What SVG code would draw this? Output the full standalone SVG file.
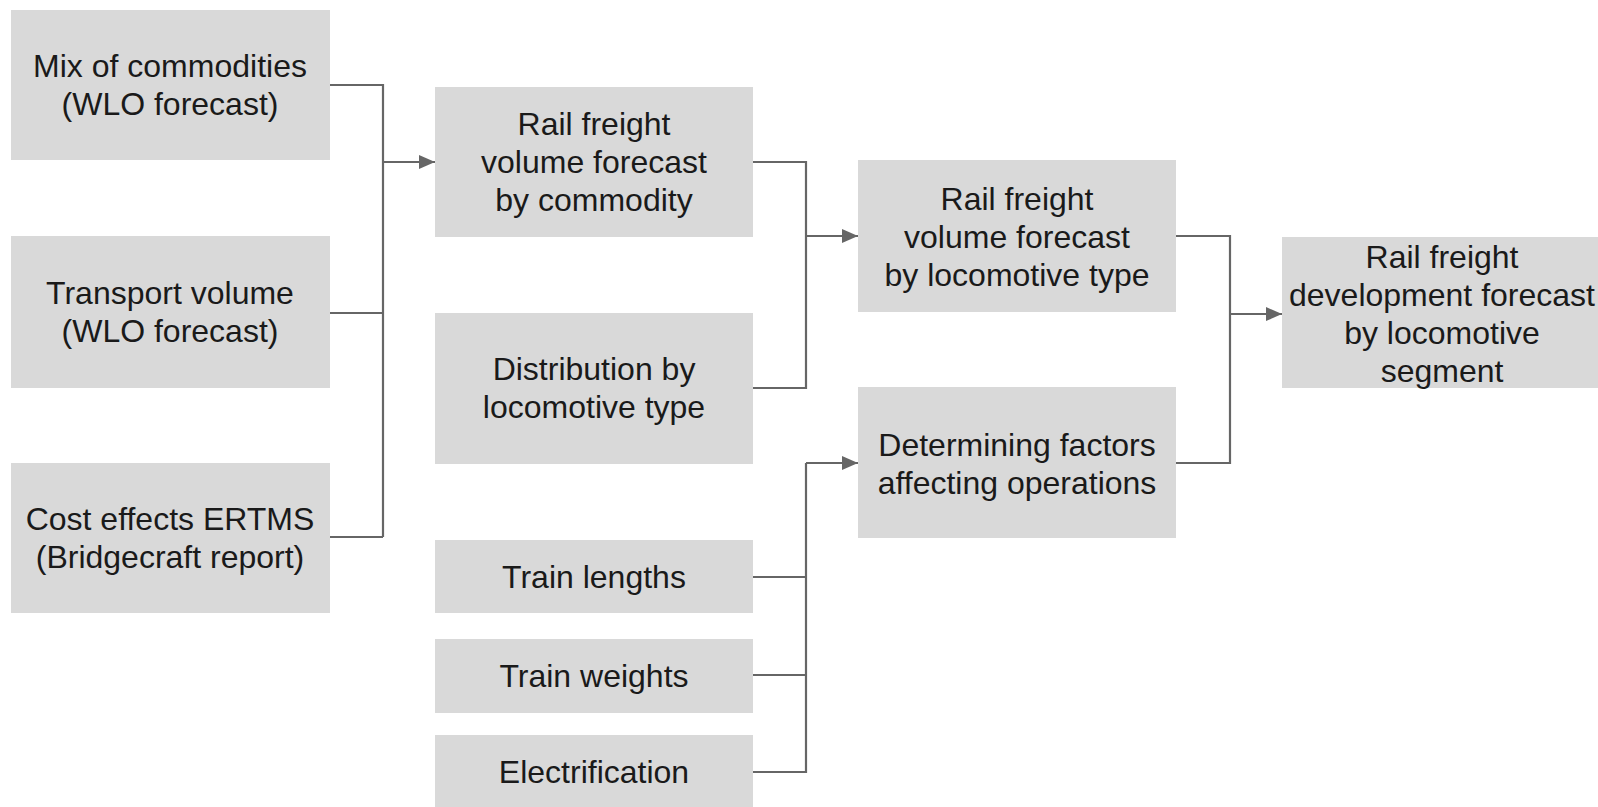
<svg xmlns="http://www.w3.org/2000/svg" width="1598" height="807" viewBox="0 0 1598 807">
<style>
.box{fill:#d9d9d9}
.t{font-family:"Liberation Sans",Arial,sans-serif;font-size:32px;fill:#1a1a1a;text-anchor:middle}
.c{fill:none;stroke:#666;stroke-width:2.2}
</style>
<defs>
<marker id="ah" markerUnits="userSpaceOnUse" markerWidth="16" markerHeight="14" refX="16" refY="7" orient="auto">
<path d="M0,0 L16,7 L0,14 Z" fill="#666"/>
</marker>
</defs>
<rect width="1598" height="807" fill="#fff"/>
<g id="connectors">
<path class="c" d="M330,85 H383 V537 M330,313 H383 M330,537 H383"/>
<path class="c" d="M383,162 H435" marker-end="url(#ah)"/>
<path class="c" d="M753,162 H806 V388 H753"/>
<path class="c" d="M806,236 H858" marker-end="url(#ah)"/>
<path class="c" d="M753,577 H806 M753,675 H806 M753,772 H806 V463"/>
<path class="c" d="M806,463 H858" marker-end="url(#ah)"/>
<path class="c" d="M1176,236 H1230 V463 H1176"/>
<path class="c" d="M1230,314 H1282" marker-end="url(#ah)"/>
</g>
<g id="mix"><rect class="box" x="11" y="10" width="319" height="150"/>
<text class="t" x="170" y="77">Mix of commodities</text><text class="t" x="170" y="115">(WLO forecast)</text></g>
<g id="transport"><rect class="box" x="11" y="236" width="319" height="152"/>
<text class="t" x="170" y="304">Transport volume</text><text class="t" x="170" y="342">(WLO forecast)</text></g>
<g id="cost"><rect class="box" x="11" y="463" width="319" height="150"/>
<text class="t" x="170" y="530">Cost effects ERTMS</text><text class="t" x="170" y="568">(Bridgecraft report)</text></g>
<g id="rfc"><rect class="box" x="435" y="87" width="318" height="150"/>
<text class="t" x="594" y="135">Rail freight</text><text class="t" x="594" y="173">volume forecast</text><text class="t" x="594" y="211">by commodity</text></g>
<g id="dist"><rect class="box" x="435" y="313" width="318" height="151"/>
<text class="t" x="594" y="380">Distribution by</text><text class="t" x="594" y="418">locomotive type</text></g>
<g id="lengths"><rect class="box" x="435" y="540" width="318" height="73"/>
<text class="t" x="594" y="588">Train lengths</text></g>
<g id="weights"><rect class="box" x="435" y="639" width="318" height="74"/>
<text class="t" x="594" y="687">Train weights</text></g>
<g id="electrification"><rect class="box" x="435" y="735" width="318" height="72"/>
<text class="t" x="594" y="783">Electrification</text></g>
<g id="rfl"><rect class="box" x="858" y="160" width="318" height="152"/>
<text class="t" x="1017" y="210">Rail freight</text><text class="t" x="1017" y="248">volume forecast</text><text class="t" x="1017" y="286">by locomotive type</text></g>
<g id="det"><rect class="box" x="858" y="387" width="318" height="151"/>
<text class="t" x="1017" y="456">Determining factors</text><text class="t" x="1017" y="494">affecting operations</text></g>
<g id="rfd"><rect class="box" x="1282" y="237" width="316" height="151"/>
<text class="t" x="1442" y="268">Rail freight</text><text class="t" x="1442" y="306">development forecast</text><text class="t" x="1442" y="344">by locomotive</text><text class="t" x="1442" y="382">segment</text></g>
</svg>
